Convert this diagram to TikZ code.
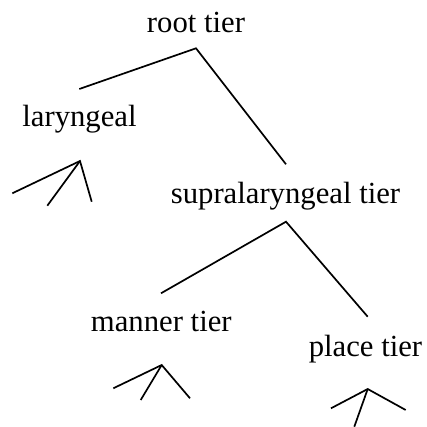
\documentclass[tikz,border=0pt]{standalone}
\usepackage{fontspec}
\setmainfont{Liberation Serif}
\begin{document}
\begin{tikzpicture}[x=1pt,y=-1pt,
  tierlabel/.style={anchor=base,inner sep=0pt,font=\fontsize{30.7}{36}\selectfont},
  branch/.style={line width=1.7pt,line cap=butt}]
\useasboundingbox (0,0) rectangle (427,427);
% tier labels
\node[tierlabel] (root) at (196,32.3) {root tier};
\node[tierlabel] (lar) at (79.5,126.3) {laryngeal};
\node[tierlabel] (supra) at (285.5,203.3) {supralaryngeal tier};
\node[tierlabel] (manner) at (161.3,331.3) {manner tier};
\node[tierlabel] (place) at (365.5,356.3) {place tier};
% branching points
\coordinate (rootA) at (196,48.3);
\coordinate (larT) at (79.3,89);
\coordinate (supraT) at (286,164.3);
\coordinate (supraA) at (286,221.7);
\coordinate (mannerT) at (161,293.3);
\coordinate (placeT) at (367.7,316.7);
% root tier branches
\draw[branch] (larT) -- (rootA) -- (supraT);
\draw[branch] (mannerT) -- (supraA) -- (placeT);
% laryngeal fan
\coordinate (larA) at (80,161);
\coordinate (larL1) at (12.3,193.3);
\coordinate (larL2) at (47.3,205.7);
\coordinate (larL3) at (91.7,201.7);
\draw[branch] (larL1) -- (larA) -- (larL3);
\draw[branch] (larL2) -- (larA);
% manner fan
\coordinate (manA) at (161.7,365);
\coordinate (manL1) at (113.3,388.3);
\coordinate (manL2) at (140.7,400);
\coordinate (manL3) at (190,398.3);
\draw[branch] (manL1) -- (manA) -- (manL3);
\draw[branch] (manL2) -- (manA);
% place fan
\coordinate (plA) at (367.7,389);
\coordinate (plL1) at (331,408.3);
\coordinate (plL2) at (354.3,426.7);
\coordinate (plL3) at (405.7,410);
\draw[branch] (plL1) -- (plA) -- (plL3);
\draw[branch] (plL2) -- (plA);
\end{tikzpicture}
\end{document}
